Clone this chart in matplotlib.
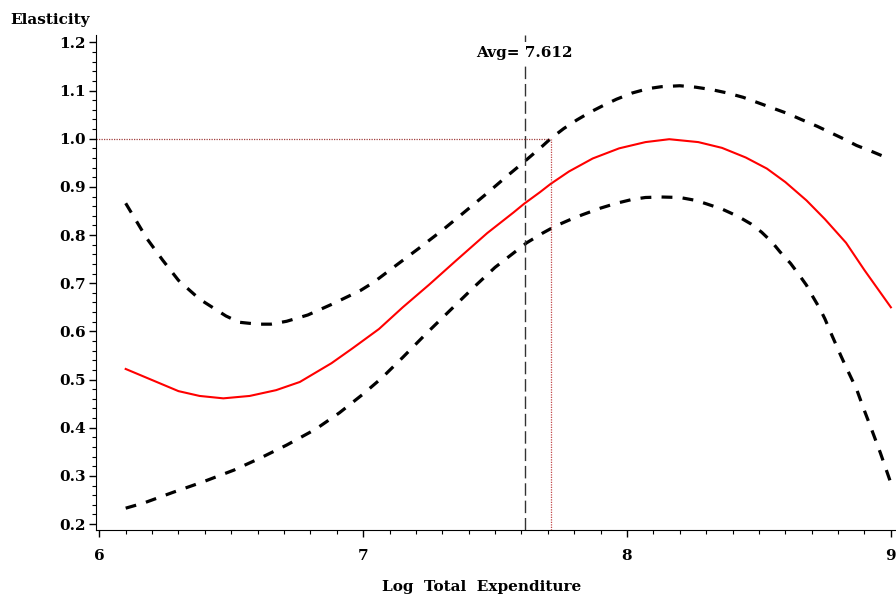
import matplotlib.pyplot as plt
import numpy as np
from matplotlib.ticker import MultipleLocator

# Elasticity vs log total expenditure, with upper / lower bounds
x_el = [6.10, 6.20, 6.30, 6.38, 6.47, 6.57, 6.67, 6.76, 6.88, 6.96, 7.06, 7.15,
        7.25, 7.35, 7.47, 7.57, 7.61, 7.67, 7.71, 7.78, 7.87, 7.97, 8.07, 8.16,
        8.27, 8.36, 8.45, 8.53, 8.60, 8.68, 8.75, 8.83, 8.90, 9.00]
elast = [0.522, 0.499, 0.476, 0.466, 0.461, 0.466, 0.478, 0.495, 0.534, 0.565,
         0.605, 0.650, 0.697, 0.746, 0.804, 0.847, 0.865, 0.889, 0.906, 0.932,
         0.959, 0.980, 0.993, 0.999, 0.993, 0.981, 0.961, 0.938, 0.910, 0.872,
         0.833, 0.784, 0.727, 0.650]

x_up = [6.10, 6.18, 6.24, 6.30, 6.38, 6.48, 6.53, 6.60, 6.65, 6.71, 6.79, 6.88,
        6.99, 7.04, 7.11, 7.21, 7.30, 7.38, 7.47, 7.54, 7.61, 7.68, 7.71, 7.76,
        7.81, 7.86, 7.91, 7.96, 8.02, 8.08, 8.13, 8.20, 8.26, 8.32, 8.38, 8.44,
        8.49, 8.55, 8.61, 8.66, 8.72, 8.77, 8.82, 8.87, 8.93, 9.00]
upper = [0.866, 0.793, 0.748, 0.706, 0.667, 0.632, 0.619, 0.615, 0.615, 0.621,
         0.634, 0.656, 0.685, 0.702, 0.731, 0.772, 0.810, 0.846, 0.887, 0.920,
         0.952, 0.985, 1.000, 1.021, 1.039, 1.055, 1.069, 1.082, 1.095, 1.104,
         1.108, 1.110, 1.107, 1.102, 1.095, 1.086, 1.076, 1.064, 1.052, 1.040,
         1.026, 1.013, 1.000, 0.986, 0.973, 0.957]

x_lo = [6.10, 6.17, 6.28, 6.39, 6.51, 6.61, 6.71, 6.82, 6.91, 7.00, 7.07, 7.15,
        7.24, 7.33, 7.42, 7.50, 7.58, 7.62, 7.68, 7.73, 7.78, 7.83, 7.90, 7.96,
        8.02, 8.07, 8.13, 8.20, 8.26, 8.30, 8.36, 8.42, 8.47, 8.51, 8.55, 8.58,
        8.62, 8.65, 8.68, 8.70, 8.73, 8.75, 8.77, 8.79, 8.81, 8.83, 8.87, 8.90,
        8.93, 8.96, 9.00]
lower = [0.233, 0.244, 0.266, 0.287, 0.312, 0.337, 0.364, 0.397, 0.431, 0.470,
         0.503, 0.546, 0.596, 0.644, 0.692, 0.733, 0.767, 0.784, 0.804, 0.819,
         0.831, 0.842, 0.856, 0.866, 0.874, 0.878, 0.879, 0.878, 0.872, 0.865,
         0.854, 0.839, 0.823, 0.806, 0.785, 0.765, 0.741, 0.719, 0.696, 0.676,
         0.648, 0.626, 0.600, 0.575, 0.550, 0.526, 0.480, 0.435, 0.392, 0.348,
         0.285]

avg_x = 7.612
cross_x = 7.71  # where the upper bound reaches 1.0

plt.rcParams['font.family'] = ['DejaVu Serif']

fig = plt.figure(figsize=(8.96, 5.96), dpi=100)
ax = fig.add_axes([0.107, 0.111, 0.892, 0.830])

ax.plot(x_up, upper, color="black", linewidth=2.3, linestyle=(0, (3.4, 3.2)))
ax.plot(x_lo, lower, color="black", linewidth=2.3, linestyle=(0, (3.4, 3.2)))
ax.plot(x_el, elast, color="red", linewidth=1.5)

# reference lines
ax.axvline(avg_x, color="#333333", linewidth=1.0, linestyle=(0, (9, 3.5)))
ax.plot([5.987, cross_x], [1.0, 1.0], color="#a04040", linewidth=0.9, linestyle=(0, (1, 1)))
ax.plot([cross_x, cross_x], [0.188, 1.0], color="#c04848", linewidth=0.9, linestyle=(0, (1, 1)))
ax.text(avg_x, 1.177, f"Avg= {avg_x}", ha="center", va="center", fontsize=11,
        fontweight="bold", bbox=dict(facecolor="white", edgecolor="none", pad=3))

ax.set_xlim(5.987, 9.016)
ax.set_ylim(0.188, 1.215)
ax.xaxis.set_major_locator(MultipleLocator(1))
ax.xaxis.set_minor_locator(MultipleLocator(0.1))
ax.yaxis.set_minor_locator(MultipleLocator(0.02))
ax.set_yticks(np.arange(0.2, 1.21, 0.1))
ax.set_yticklabels([f"{v:.1f}" for v in np.arange(0.2, 1.21, 0.1)])
ax.tick_params(which="major", length=5, width=1, labelsize=11)
ax.tick_params(which="minor", length=3, width=0.8)
ax.tick_params(axis="y", pad=2)
ax.tick_params(axis="x", pad=9)
for lab in ax.get_xticklabels() + ax.get_yticklabels():
    lab.set_fontweight("bold")

ax.spines["top"].set_visible(False)
ax.spines["right"].set_visible(False)

fig.text(0.011, 0.966, "Elasticity", fontsize=11, fontweight="bold", va="center")
fig.text(0.537, 0.015, "Log  Total  Expenditure", fontsize=11, fontweight="bold",
         ha="center", va="center")

fig.savefig("out.png", dpi=100)
